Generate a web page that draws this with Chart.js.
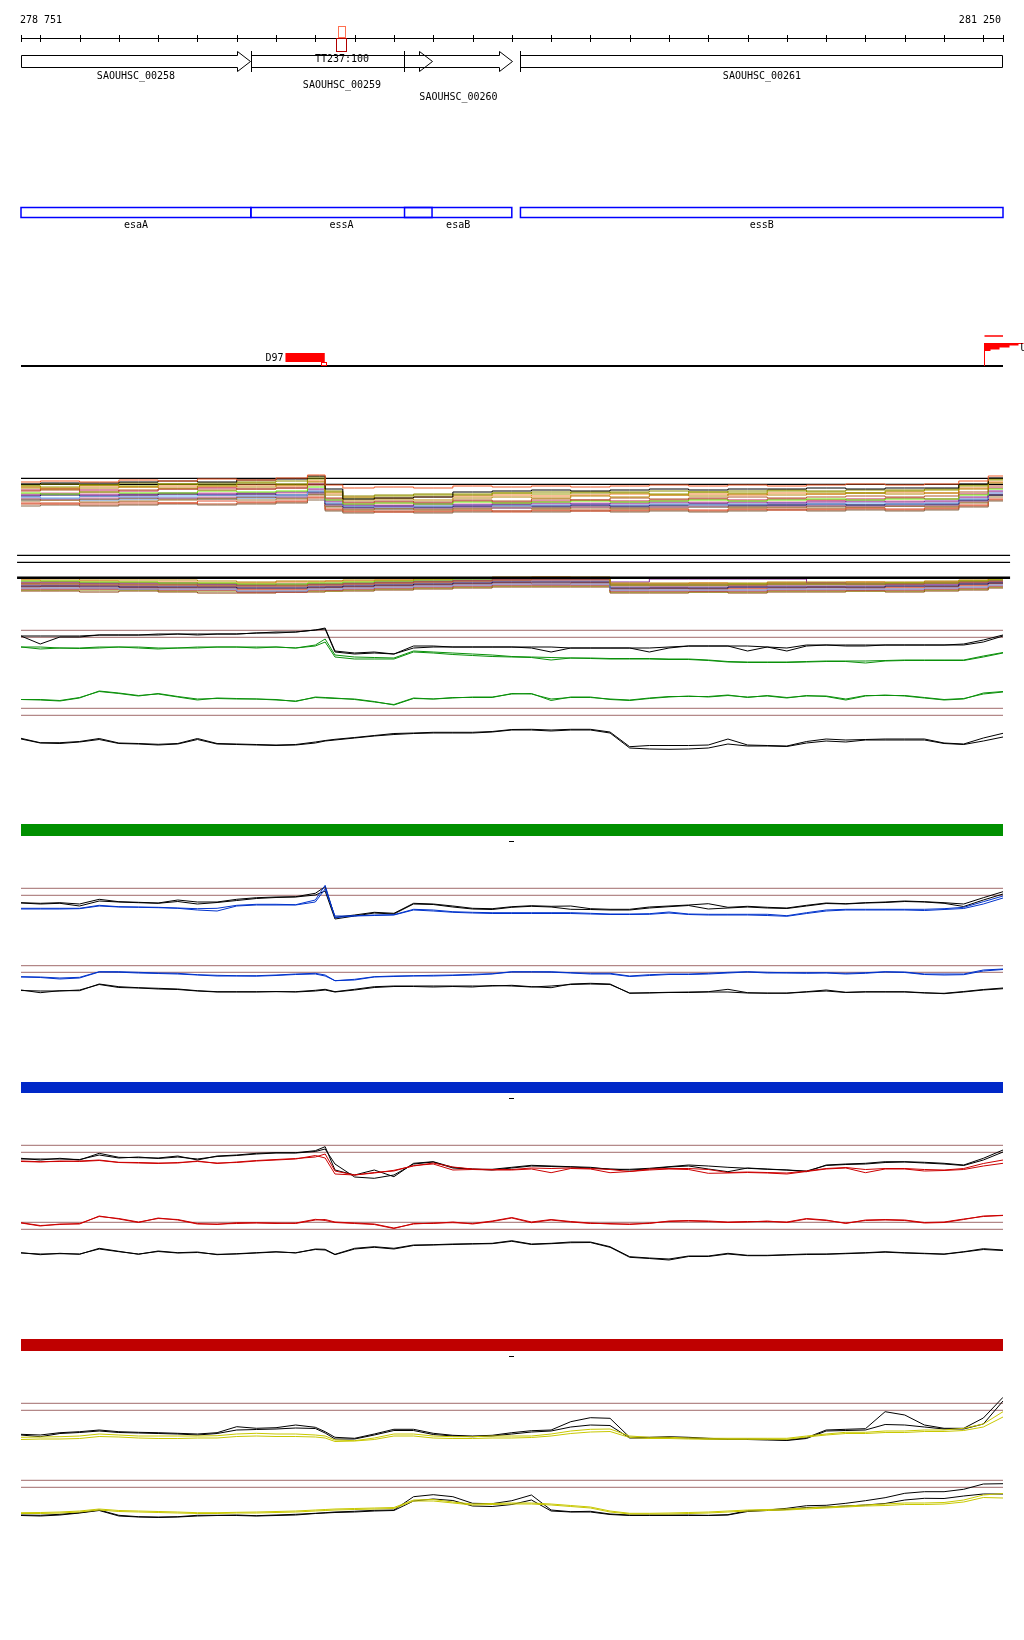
<!DOCTYPE html>
<html>
<head>
<meta charset="utf-8">
<script src="https://cdn.jsdelivr.net/npm/chart.js@4.4.1/dist/chart.umd.min.js"></script>
<style>
  html, body { margin: 0; padding: 0; background: #fff; }
  body { width: 1024px; height: 1640px; position: relative; overflow: hidden; }
  canvas { position: absolute; left: 0; }
</style>
</head>
<body>
<canvas id="map" width="1024" height="380" style="top:0px"></canvas>
<canvas id="stackA" width="1024" height="50" style="top:470px"></canvas>
<canvas id="stackB" width="1024" height="55" style="top:545px"></canvas>
<canvas id="greenPanel" width="1024" height="140" style="top:620px"></canvas>
<canvas id="bluePanel" width="1024" height="190" style="top:820px"></canvas>
<canvas id="redPanel" width="1024" height="192" style="top:1078px"></canvas>
<canvas id="yellowPanel" width="1024" height="195" style="top:1335px"></canvas>
<script>
/* --- VIEW / ANNOTATION DATA --- */
const viewStart = 278751;
const viewEnd = 281250;
const rulerTicks = [278800, 278900, 279000, 279100, 279200, 279300, 279400, 279500, 279600, 279700,
    279800, 279900, 280000, 280100, 280200, 280300, 280400, 280500, 280600, 280700,
    280800, 280900, 281000, 281100, 281200];

const geneNames = ['SAOUHSC_00258', 'SAOUHSC_00259', 'SAOUHSC_00260', 'SAOUHSC_00261'];
const geneStarts = [278751, 279336, 279726, 280022];
const geneEnds = [279334, 279797, 280000, 281420];
const geneLabelRow = [0, 1, 2, 0];

const markerName = 'TT237:100';
const markerPos = 279569;

const featureNames = ['esaA', 'essA', 'esaB', 'essB'];
const featureStarts = [278751, 279336, 279727, 280022];
const featureEnds = [279336, 279797, 280000, 281250];

const peakName = 'D97';
const peakStart = 279424;
const peakEnd = 279524;
const flagPos = 281201;
const flagName = 'U';

/* --- STACKED PROFILES (many strains) --- */
const stackPos = [278751, 278850, 278950, 279050, 279150, 279250, 279350, 279450, 279510, 279540,
    279600, 279700, 279800, 279900, 280000, 280100, 280200, 280300, 280400, 280500,
    280600, 280700, 280800, 280900, 281000, 281100, 281175, 281250];

const stackColors = ['#f05a28', '#000000', '#9a9a00', '#b8860b', '#b25a2a', '#66ee00', '#8b2a9b',
    '#6aaaf0', '#101050', '#c080c0', '#a07838', '#e05030', '#8b6b4b', '#c02050',
    '#8b8b00', '#f08030', '#8b4513', '#e080a0', '#c85028', '#5080c0'];

const stackALevels = [
    [1.3, 1.4, 1.3, 1.5, 1.4, 1.6, 1.5, 1.7, 2.0, 1.0, 0.7, 0.8, 0.7, 0.9, 0.8, 0.9, 0.8, 0.9, 1.0, 0.9, 1.0, 0.9, 1.0, 1.1, 1.0, 1.1, 1.4, 1.9],
    [1.1, 1.2, 1.2, 1.3, 1.4, 1.3, 1.5, 1.6, 1.9, 0.6, -0.4, -0.3, -0.2, 0.3, 0.4, 0.5, 0.4, 0.5, 0.6, 0.5, 0.6, 0.6, 0.7, 0.6, 0.7, 0.7, 1.1, 1.7],
    [0.9, 0.8, 1.0, 0.9, 1.1, 1.0, 1.2, 1.1, 1.6, 0.3, -0.3, -0.1, 0.0, 0.1, 0.2, 0.1, 0.3, 0.2, 0.1, 0.3, 0.2, 0.4, 0.3, 0.2, 0.4, 0.5, 0.9, 1.5],
    [0.7, 0.6, 0.7, 0.8, 0.7, 0.9, 0.8, 1.0, 1.3, 0.0, -0.5, -0.4, -0.5, -0.3, -0.2, -0.3, -0.1, -0.2, 0.0, -0.1, 0.1, 0.0, 0.1, 0.2, 0.1, 0.2, 0.6, 1.2],
    [0.4, 0.5, 0.3, 0.5, 0.6, 0.5, 0.6, 0.7, 1.0, -0.3, -0.7, -0.6, -0.7, -0.5, -0.6, -0.4, -0.5, -0.3, -0.4, -0.3, -0.2, -0.3, -0.2, -0.1, -0.2, -0.1, 0.3, 0.9],
    [0.2, 0.1, 0.3, 0.2, 0.2, 0.4, 0.3, 0.4, 0.8, -0.5, -0.9, -0.8, -0.9, -0.7, -0.8, -0.7, -0.6, -0.7, -0.6, -0.5, -0.6, -0.5, -0.4, -0.5, -0.4, -0.4, 0.0, 0.6],
    [0.0, 0.1, 0.0, 0.1, 0.2, 0.1, 0.2, 0.3, 0.6, -0.6, -1.0, -1.1, -0.9, -1.0, -0.9, -0.8, -0.9, -0.8, -0.7, -0.8, -0.7, -0.8, -0.7, -0.6, -0.7, -0.6, -0.2, 0.4],
    [-0.2, -0.3, -0.1, -0.2, -0.1, 0.0, -0.1, 0.0, 0.4, -0.8, -1.1, -1.2, -1.1, -1.0, -1.1, -1.0, -0.9, -1.0, -0.9, -1.0, -0.9, -0.8, -0.9, -0.8, -0.9, -0.8, -0.4, 0.2],
    [-0.1, 0.0, -0.1, 0.0, 0.1, 0.0, 0.1, 0.0, 0.3, -0.9, -1.2, -1.1, -1.2, -1.1, -1.0, -1.1, -1.0, -1.1, -1.0, -0.9, -1.0, -1.0, -0.9, -1.0, -0.9, -0.9, -0.5, 0.0],
    [-0.3, -0.4, -0.3, -0.2, -0.3, -0.2, -0.1, -0.2, 0.2, -1.0, -1.3, -1.2, -1.3, -1.2, -1.3, -1.1, -1.2, -1.1, -1.2, -1.1, -1.0, -1.1, -1.0, -1.1, -1.0, -1.0, -0.6, 0.1],
    [-0.6, -0.5, -0.7, -0.6, -0.5, -0.4, -0.5, -0.4, 0.0, -1.2, -1.5, -1.4, -1.5, -1.4, -1.3, -1.4, -1.3, -1.4, -1.3, -1.2, -1.3, -1.2, -1.3, -1.2, -1.1, -1.2, -0.8, -0.2],
    [-0.8, -0.9, -0.8, -0.7, -0.8, -0.6, -0.7, -0.6, -0.2, -1.4, -1.6, -1.7, -1.6, -1.5, -1.6, -1.5, -1.6, -1.5, -1.4, -1.5, -1.4, -1.5, -1.4, -1.3, -1.4, -1.3, -1.0, -0.4],
    [-1.1, -1.0, -1.1, -1.0, -0.9, -1.0, -0.9, -0.8, -0.5, -1.6, -1.8, -1.7, -1.8, -1.7, -1.6, -1.7, -1.6, -1.7, -1.6, -1.7, -1.6, -1.5, -1.6, -1.5, -1.6, -1.5, -1.2, -0.6],
    [0.5, 0.6, 0.5, 0.4, 0.6, 0.7, 0.6, 0.7, 1.1, -0.4, -0.8, -0.7, -0.8, -0.6, -0.7, -0.6, -0.5, -0.6, -0.5, -0.4, -0.5, -0.4, -0.5, -0.4, -0.3, -0.4, 0.1, 0.7],
    [1.0, 1.1, 1.0, 1.2, 1.1, 1.2, 1.3, 1.4, 1.8, 0.4, -0.1, 0.0, 0.1, 0.0, 0.2, 0.3, 0.2, 0.3, 0.4, 0.3, 0.4, 0.5, 0.4, 0.5, 0.5, 0.6, 1.0, 1.6],
    [0.8, 0.7, 0.9, 0.8, 0.9, 0.8, 1.0, 0.9, 1.4, 0.2, -0.2, -0.3, -0.2, -0.1, 0.0, -0.1, 0.0, 0.1, 0.0, 0.1, 0.0, 0.2, 0.1, 0.2, 0.3, 0.2, 0.7, 1.3],
    [-0.4, -0.5, -0.4, -0.3, -0.4, -0.3, -0.2, -0.3, 0.1, -1.1, -1.4, -1.3, -1.4, -1.3, -1.2, -1.3, -1.2, -1.3, -1.2, -1.1, -1.2, -1.2, -1.1, -1.2, -1.1, -1.1, -0.7, 0.0],
    [0.1, 0.2, 0.1, 0.0, 0.1, 0.2, 0.1, 0.2, 0.5, -0.7, -1.0, -0.9, -1.0, -0.9, -0.8, -0.9, -0.8, -0.9, -0.8, -0.7, -0.8, -0.7, -0.6, -0.7, -0.6, -0.7, -0.3, 0.3],
    [-0.9, -0.8, -1.0, -0.9, -0.8, -0.9, -0.8, -0.7, -0.3, -1.5, -1.7, -1.6, -1.7, -1.6, -1.7, -1.6, -1.5, -1.6, -1.5, -1.6, -1.5, -1.4, -1.5, -1.4, -1.5, -1.4, -1.1, -0.5],
    [-0.5, -0.4, -0.5, -0.4, -0.3, -0.4, -0.3, -0.2, 0.1, -1.1, -1.3, -1.4, -1.3, -1.2, -1.3, -1.2, -1.1, -1.2, -1.1, -1.2, -1.1, -1.0, -1.1, -1.0, -1.1, -1.0, -0.6, 0.0]
];
const stackARefs = [1.67, 1.07];

const stackBLevels = [
    [0.6, 0.6, 0.5, 0.5, 0.5, 0.4, 0.3, 0.4, 0.4, 0.4, 0.5, 0.5, 0.6, 0.7, 0.8, 0.8, 0.8, 0.2, 0.2, 0.2, 0.2, 0.3, 0.3, 0.3, 0.3, 0.4, 0.5, 0.6],
    [0.1, 0.1, 0.0, 0.0, 0.0, -0.1, -0.1, -0.1, 0.0, 0.0, 0.1, 0.2, 0.3, 0.4, 0.5, 0.6, 0.6, 0.0, 0.0, 0.0, 0.0, 0.1, 0.1, 0.1, 0.1, 0.2, 0.3, 0.4],
    [0.4, 0.4, 0.3, 0.3, 0.2, 0.2, 0.1, 0.1, 0.2, 0.2, 0.3, 0.4, 0.5, 0.6, 0.7, 0.7, 0.7, 0.0, 0.0, 0.0, 0.1, 0.1, 0.1, 0.1, 0.2, 0.2, 0.4, 0.5],
    [0.3, 0.3, 0.2, 0.2, 0.2, 0.1, 0.0, 0.1, 0.1, 0.1, 0.2, 0.3, 0.4, 0.5, 0.6, 0.6, 0.6, 0.3, 0.6, 0.6, 0.6, 0.6, 0.2, 0.1, 0.1, 0.1, 0.3, 0.4],
    [-0.3, -0.3, -0.3, -0.4, -0.4, -0.4, -0.6, -0.6, -0.4, -0.4, -0.3, -0.2, -0.1, 0.0, 0.1, 0.1, 0.1, -0.5, -0.5, -0.5, -0.5, -0.4, -0.4, -0.4, -0.4, -0.3, -0.2, 0.0],
    [-0.1, -0.1, -0.1, -0.2, -0.2, -0.2, -0.3, -0.3, -0.2, -0.2, -0.1, 0.0, 0.1, 0.2, 0.3, 0.3, 0.3, -0.3, -0.3, -0.3, -0.2, -0.2, -0.2, -0.2, -0.1, -0.1, 0.1, 0.2],
    [0.0, 0.0, -0.1, -0.1, -0.1, -0.2, -0.2, -0.2, -0.1, -0.1, 0.0, 0.1, 0.2, 0.3, 0.4, 0.4, 0.4, -0.2, -0.2, -0.2, -0.2, -0.1, -0.1, -0.1, -0.1, 0.0, 0.1, 0.3],
    [0.2, 0.2, 0.2, 0.1, 0.1, 0.1, 0.0, 0.0, 0.1, 0.1, 0.1, 0.2, 0.3, 0.4, 0.5, 0.5, 0.5, 0.1, 0.1, 0.1, 0.1, 0.2, 0.2, 0.2, 0.2, 0.3, 0.4, 0.5],
    [-0.2, -0.2, -0.2, -0.3, -0.3, -0.3, -0.5, -0.5, -0.3, -0.3, -0.2, -0.1, 0.0, 0.1, 0.2, 0.2, 0.2, -0.4, -0.4, -0.4, -0.4, -0.3, -0.3, -0.3, -0.3, -0.2, -0.1, 0.1],
    [0.1, 0.1, 0.1, 0.0, 0.0, 0.0, -0.1, -0.1, 0.0, 0.0, 0.1, 0.2, 0.3, 0.4, 0.5, 0.5, 0.5, -0.1, -0.1, -0.1, 0.0, 0.0, 0.0, 0.0, 0.1, 0.1, 0.2, 0.3],
    [-0.4, -0.4, -0.4, -0.4, -0.5, -0.5, -0.7, -0.7, -0.5, -0.5, -0.4, -0.3, -0.2, -0.1, 0.0, 0.0, 0.0, -0.6, -0.6, -0.6, -0.6, -0.5, -0.5, -0.5, -0.5, -0.4, -0.3, -0.1],
    [-0.5, -0.5, -0.5, -0.5, -0.6, -0.6, -0.7, -0.7, -0.6, -0.6, -0.5, -0.4, -0.3, -0.2, -0.1, -0.1, -0.1, -0.7, -0.7, -0.7, -0.7, -0.6, -0.6, -0.6, -0.6, -0.5, -0.4, -0.2],
    [0.5, 0.4, 0.4, 0.3, 0.3, 0.2, 0.2, 0.3, 0.3, 0.4, 0.4, 0.5, 0.6, 0.7, 0.7, 0.8, 0.7, 0.1, 0.1, 0.2, 0.1, 0.2, 0.2, 0.3, 0.2, 0.3, 0.4, 0.6],
    [-0.6, -0.6, -0.7, -0.6, -0.7, -0.8, -0.8, -0.7, -0.7, -0.6, -0.6, -0.5, -0.4, -0.3, -0.2, -0.2, -0.2, -0.8, -0.8, -0.7, -0.8, -0.7, -0.7, -0.6, -0.7, -0.6, -0.5, -0.3],
    [0.2, 0.3, 0.1, 0.2, 0.1, 0.0, 0.1, 0.0, 0.1, 0.2, 0.2, 0.3, 0.4, 0.5, 0.6, 0.5, 0.6, 0.0, -0.1, 0.0, -0.1, 0.0, 0.1, 0.0, 0.1, 0.2, 0.3, 0.4],
    [-0.2, -0.1, -0.3, -0.2, -0.3, -0.3, -0.4, -0.4, -0.3, -0.2, -0.2, -0.1, 0.0, 0.1, 0.2, 0.1, 0.2, -0.4, -0.3, -0.4, -0.3, -0.3, -0.2, -0.3, -0.2, -0.2, 0.0, 0.2]
];
const stackBRefs = [2.97, 2.27];
const stackBBase = 0.73;

/* --- PAIRED PROFILES --- */
const positions = [278751, 278800, 278850, 278900, 278950, 279000, 279050, 279100, 279150, 279200,
    279250, 279300, 279350, 279400, 279450, 279500, 279525, 279550, 279600, 279650,
    279700, 279750, 279800, 279850, 279900, 279950, 280000, 280050, 280100, 280150,
    280200, 280250, 280300, 280350, 280400, 280450, 280500, 280550, 280600, 280650,
    280700, 280750, 280800, 280850, 280900, 280950, 281000, 281050, 281100, 281150,
    281200, 281250];

// green panel
const greenTopBlackA = [6.4, 6.4, 6.4, 6.4, 6.5, 6.5, 6.5, 6.6, 6.6, 6.6, 6.6, 6.6, 6.7, 6.7, 6.8, 7.0, 7.2, 4.9, 4.7, 4.8, 4.6, 5.4, 5.4, 5.3, 5.3, 5.3, 5.3, 5.3, 5.3, 5.2, 5.2, 5.2, 5.2, 5.2, 5.3, 5.4, 5.4, 5.4, 5.4, 5.3, 5.2, 5.5, 5.5, 5.5, 5.5, 5.5, 5.5, 5.5, 5.5, 5.6, 6.0, 6.5];
const greenTopBlackB = [6.4, 5.6, 6.3, 6.3, 6.5, 6.5, 6.5, 6.5, 6.6, 6.5, 6.6, 6.6, 6.7, 6.8, 6.8, 7.0, 7.1, 4.8, 4.6, 4.7, 4.6, 5.2, 5.3, 5.3, 5.3, 5.3, 5.3, 5.2, 4.8, 5.2, 5.2, 5.2, 5.2, 4.8, 5.2, 5.4, 5.4, 5.4, 4.9, 5.3, 4.9, 5.4, 5.5, 5.4, 5.4, 5.5, 5.5, 5.5, 5.5, 5.5, 5.8, 6.4];
const greenTopA = [5.3, 5.3, 5.2, 5.2, 5.3, 5.3, 5.3, 5.2, 5.2, 5.3, 5.3, 5.3, 5.3, 5.3, 5.2, 5.5, 6.1, 4.5, 4.3, 4.25, 4.2, 4.9, 4.8, 4.7, 4.6, 4.5, 4.35, 4.3, 4.25, 4.2, 4.2, 4.15, 4.15, 4.15, 4.1, 4.1, 4.0, 3.85, 3.8, 3.8, 3.8, 3.85, 3.9, 3.9, 3.9, 3.95, 4.0, 4.0, 4.0, 4.0, 4.4, 4.75];
const greenTopB = [5.3, 5.1, 5.2, 5.15, 5.2, 5.3, 5.2, 5.1, 5.2, 5.2, 5.3, 5.3, 5.2, 5.3, 5.2, 5.4, 5.8, 4.3, 4.1, 4.1, 4.1, 4.8, 4.7, 4.55, 4.45, 4.35, 4.3, 4.25, 4.0, 4.2, 4.15, 4.1, 4.1, 4.1, 4.05, 4.05, 3.95, 3.8, 3.75, 3.75, 3.75, 3.8, 3.85, 3.85, 3.7, 3.9, 3.95, 3.95, 3.95, 3.95, 4.3, 4.7];
const greenLowA = [0.05, 0.05, -0.05, 0.25, 0.85, 0.65, 0.4, 0.65, 0.35, 0.1, 0.15, 0.1, 0.1, 0.0, -0.1, 0.25, 0.2, 0.15, 0.1, -0.15, -0.5, 0.15, 0.1, 0.25, 0.25, 0.25, 0.65, 0.6, 0.1, 0.25, 0.25, 0.1, 0.0, 0.2, 0.35, 0.35, 0.35, 0.5, 0.25, 0.45, 0.25, 0.4, 0.4, 0.1, 0.45, 0.45, 0.45, 0.25, 0.05, 0.15, 0.6, 0.8];
const greenLowB = [0.05, 0.0, -0.1, 0.2, 0.9, 0.7, 0.45, 0.6, 0.3, 0.0, 0.2, 0.15, 0.1, 0.05, -0.15, 0.3, 0.25, 0.2, 0.05, -0.2, -0.45, 0.2, 0.1, 0.2, 0.3, 0.3, 0.6, 0.65, -0.05, 0.3, 0.3, 0.05, -0.05, 0.15, 0.3, 0.4, 0.3, 0.45, 0.3, 0.4, 0.2, 0.45, 0.35, 0.0, 0.4, 0.5, 0.4, 0.2, 0.0, 0.1, 0.7, 0.85];
const greenLowBlackA = [-3.83, -4.27, -4.27, -4.15, -3.85, -4.3, -4.35, -4.43, -4.35, -3.85, -4.35, -4.4, -4.45, -4.5, -4.45, -4.2, -4.05, -3.93, -3.75, -3.55, -3.35, -3.3, -3.23, -3.23, -3.23, -3.15, -2.95, -2.93, -3.0, -2.93, -2.93, -3.2, -4.67, -4.55, -4.55, -4.55, -4.5, -3.9, -4.5, -4.55, -4.6, -4.15, -3.9, -4.0, -3.95, -3.9, -3.9, -3.9, -4.3, -4.4, -3.8, -3.33];
const greenLowBlackB = [-3.9, -4.3, -4.35, -4.2, -3.95, -4.35, -4.4, -4.5, -4.4, -3.95, -4.4, -4.45, -4.5, -4.55, -4.5, -4.3, -4.1, -4.0, -3.8, -3.6, -3.45, -3.35, -3.3, -3.3, -3.3, -3.2, -3.0, -3.0, -3.1, -3.0, -3.0, -3.3, -4.8, -4.9, -4.93, -4.9, -4.8, -4.4, -4.6, -4.6, -4.65, -4.3, -4.1, -4.2, -4.0, -4.0, -4.0, -4.0, -4.35, -4.45, -4.1, -3.7];
const greenRefs = [6.97, 6.27, -0.83, -1.53];

// blue panel
const blueTopBlackA = [4.73, 4.67, 4.73, 4.6, 5.07, 4.83, 4.77, 4.7, 5.0, 4.8, 4.8, 5.07, 5.23, 5.3, 5.33, 5.67, 6.33, 3.27, 3.5, 3.77, 3.67, 4.67, 4.6, 4.4, 4.17, 4.13, 4.33, 4.43, 4.37, 4.4, 4.13, 4.07, 4.07, 4.3, 4.4, 4.5, 4.63, 4.27, 4.37, 4.27, 4.2, 4.47, 4.7, 4.63, 4.73, 4.8, 4.9, 4.83, 4.73, 4.6, 5.23, 5.83];
const blueTopBlackB = [4.7, 4.6, 4.67, 4.4, 4.9, 4.8, 4.73, 4.67, 4.85, 4.6, 4.75, 4.95, 5.15, 5.25, 5.3, 5.5, 5.9, 3.1, 3.4, 3.7, 3.6, 4.6, 4.55, 4.3, 4.1, 4.05, 4.27, 4.37, 4.3, 4.07, 4.05, 4.0, 4.0, 4.2, 4.33, 4.45, 4.1, 4.2, 4.3, 4.2, 4.15, 4.4, 4.65, 4.6, 4.7, 4.75, 4.85, 4.8, 4.67, 4.35, 5.0, 5.6];
const blueTopA = [4.17, 4.17, 4.17, 4.17, 4.47, 4.33, 4.3, 4.27, 4.2, 4.13, 4.17, 4.47, 4.57, 4.57, 4.53, 5.0, 6.47, 3.23, 3.43, 3.5, 3.53, 4.07, 4.0, 3.83, 3.77, 3.73, 3.73, 3.73, 3.73, 3.73, 3.67, 3.6, 3.6, 3.63, 3.8, 3.6, 3.57, 3.57, 3.57, 3.57, 3.43, 3.73, 4.0, 4.07, 4.07, 4.07, 4.07, 4.07, 4.13, 4.27, 4.83, 5.4];
const blueTopB = [4.1, 4.1, 4.1, 4.13, 4.4, 4.3, 4.27, 4.23, 4.17, 4.0, 3.9, 4.4, 4.5, 4.5, 4.5, 4.8, 6.1, 3.4, 3.4, 3.45, 3.5, 4.0, 3.9, 3.77, 3.7, 3.65, 3.65, 3.65, 3.65, 3.65, 3.6, 3.55, 3.55, 3.57, 3.7, 3.55, 3.5, 3.5, 3.5, 3.45, 3.37, 3.65, 3.9, 4.0, 4.0, 4.0, 4.0, 3.95, 4.05, 4.15, 4.6, 5.2];
const blueLowA = [-2.67, -2.7, -2.8, -2.73, -2.17, -2.17, -2.23, -2.3, -2.33, -2.47, -2.53, -2.57, -2.57, -2.5, -2.4, -2.33, -2.5, -3.07, -2.93, -2.67, -2.6, -2.57, -2.53, -2.5, -2.43, -2.37, -2.17, -2.17, -2.17, -2.27, -2.33, -2.33, -2.6, -2.47, -2.4, -2.4, -2.33, -2.23, -2.17, -2.23, -2.27, -2.27, -2.27, -2.33, -2.27, -2.17, -2.2, -2.4, -2.4, -2.4, -2.0, -1.9];
const blueLowB = [-2.7, -2.75, -2.9, -2.8, -2.2, -2.22, -2.3, -2.35, -2.4, -2.5, -2.6, -2.6, -2.62, -2.55, -2.45, -2.4, -2.6, -3.07, -3.0, -2.7, -2.65, -2.6, -2.6, -2.55, -2.5, -2.4, -2.2, -2.2, -2.22, -2.3, -2.4, -2.4, -2.65, -2.55, -2.45, -2.45, -2.4, -2.3, -2.2, -2.3, -2.3, -2.33, -2.3, -2.4, -2.33, -2.2, -2.25, -2.45, -2.5, -2.47, -2.1, -1.95];
const blueLowBlackA = [-4.0, -4.27, -4.07, -4.07, -3.4, -3.67, -3.77, -3.83, -3.9, -4.07, -4.17, -4.17, -4.17, -4.17, -4.17, -4.03, -3.93, -4.17, -3.93, -3.67, -3.6, -3.6, -3.6, -3.6, -3.6, -3.6, -3.53, -3.67, -3.77, -3.4, -3.33, -3.4, -4.33, -4.27, -4.23, -4.2, -4.17, -3.93, -4.27, -4.33, -4.3, -4.17, -4.0, -4.23, -4.17, -4.17, -4.17, -4.27, -4.37, -4.2, -4.0, -3.87];
const blueLowBlackB = [-4.05, -4.1, -4.1, -4.0, -3.45, -3.75, -3.8, -3.9, -3.95, -4.1, -4.2, -4.2, -4.2, -4.15, -4.2, -4.1, -4.0, -4.2, -4.0, -3.75, -3.65, -3.65, -3.7, -3.65, -3.7, -3.55, -3.6, -3.7, -3.6, -3.45, -3.4, -3.45, -4.3, -4.3, -4.25, -4.25, -4.2, -4.2, -4.3, -4.3, -4.33, -4.2, -4.1, -4.25, -4.2, -4.2, -4.2, -4.3, -4.33, -4.15, -3.95, -3.8];
const blueRefs = [6.17, 5.47, -1.57, -2.23];

// red panel
const redTopBlackA = [4.17, 4.0, 4.17, 4.0, 4.67, 4.27, 4.23, 4.2, 4.4, 4.0, 4.4, 4.5, 4.67, 4.73, 4.73, 4.93, 5.33, 3.0, 2.5, 3.0, 2.33, 3.67, 3.83, 3.27, 3.07, 3.07, 3.27, 3.47, 3.4, 3.33, 3.27, 3.07, 3.07, 3.17, 3.33, 3.5, 3.4, 3.27, 3.17, 3.07, 3.0, 2.83, 3.5, 3.6, 3.67, 3.83, 3.83, 3.77, 3.67, 3.5, 4.17, 5.0];
const redTopBlackB = [4.1, 4.1, 4.1, 4.05, 4.5, 4.2, 4.3, 4.15, 4.3, 4.1, 4.35, 4.45, 4.6, 4.7, 4.7, 4.85, 5.1, 3.6, 2.3, 2.17, 2.5, 3.6, 3.8, 3.2, 3.1, 3.0, 3.2, 3.4, 3.35, 3.3, 3.2, 3.1, 3.0, 3.1, 3.3, 3.4, 3.1, 2.83, 3.2, 3.1, 3.0, 2.9, 3.45, 3.55, 3.6, 3.75, 3.8, 3.7, 3.6, 3.45, 4.0, 4.8];
const redTopA = [3.9, 3.83, 3.85, 3.9, 4.0, 3.77, 3.75, 3.7, 3.7, 3.9, 3.65, 3.8, 3.95, 4.05, 4.15, 4.3, 4.6, 2.9, 2.5, 2.7, 2.97, 3.4, 3.7, 3.3, 3.1, 3.05, 3.05, 3.2, 3.15, 3.2, 3.15, 3.05, 2.85, 3.1, 3.15, 3.15, 3.05, 2.75, 2.8, 2.75, 2.7, 2.9, 3.15, 3.25, 3.05, 3.15, 3.15, 3.05, 3.0, 3.15, 3.65, 4.0];
const redTopB = [3.85, 3.8, 3.9, 3.85, 3.95, 3.75, 3.7, 3.65, 3.75, 3.85, 3.7, 3.75, 3.9, 4.0, 4.1, 4.45, 4.2, 2.6, 2.5, 2.75, 2.9, 3.45, 3.6, 3.0, 3.05, 3.0, 3.0, 3.1, 2.73, 3.15, 3.1, 2.73, 2.85, 3.0, 3.1, 3.05, 2.67, 2.7, 2.75, 2.7, 2.6, 2.85, 3.1, 3.2, 2.73, 3.1, 3.1, 2.9, 2.95, 3.05, 3.4, 3.67];
const redLowA = [-2.27, -2.55, -2.45, -2.35, -1.65, -1.85, -2.2, -1.85, -1.95, -2.35, -2.45, -2.27, -2.27, -2.3, -2.35, -2.0, -1.95, -2.2, -2.3, -2.4, -2.8, -2.4, -2.3, -2.27, -2.35, -2.1, -1.75, -2.2, -1.95, -2.15, -2.3, -2.4, -2.4, -2.35, -2.1, -2.05, -2.1, -2.2, -2.15, -2.15, -2.2, -1.85, -2.0, -2.35, -2.0, -1.95, -2.0, -2.25, -2.2, -1.9, -1.65, -1.55];
const redLowB = [-2.3, -2.6, -2.4, -2.4, -1.6, -1.9, -2.25, -1.8, -2.0, -2.4, -2.4, -2.35, -2.3, -2.35, -2.3, -1.93, -2.05, -2.25, -2.35, -2.45, -2.85, -2.35, -2.35, -2.2, -2.4, -2.15, -1.8, -2.27, -2.0, -2.2, -2.35, -2.35, -2.45, -2.3, -2.15, -2.1, -2.15, -2.25, -2.2, -2.1, -2.25, -1.9, -2.05, -2.3, -2.05, -2.0, -2.05, -2.3, -2.25, -1.95, -1.6, -1.53];
const redLowBlackA = [-5.27, -5.47, -5.33, -5.43, -4.83, -5.13, -5.43, -5.1, -5.27, -5.2, -5.47, -5.37, -5.27, -5.17, -5.3, -4.9, -4.93, -5.43, -4.83, -4.67, -4.83, -4.5, -4.47, -4.4, -4.37, -4.33, -4.07, -4.4, -4.33, -4.2, -4.2, -4.67, -5.67, -5.8, -5.9, -5.6, -5.6, -5.33, -5.53, -5.53, -5.47, -5.4, -5.4, -5.33, -5.27, -5.17, -5.27, -5.33, -5.4, -5.17, -4.87, -5.0];
const redLowBlackB = [-5.3, -5.4, -5.37, -5.4, -4.9, -5.17, -5.4, -5.15, -5.3, -5.25, -5.43, -5.4, -5.3, -5.2, -5.27, -4.95, -5.0, -5.47, -4.9, -4.73, -4.9, -4.55, -4.5, -4.45, -4.4, -4.37, -4.13, -4.45, -4.37, -4.27, -4.25, -4.73, -5.73, -5.85, -6.0, -5.65, -5.65, -5.4, -5.57, -5.57, -5.5, -5.45, -5.43, -5.37, -5.3, -5.22, -5.3, -5.37, -5.43, -5.2, -4.95, -5.05];
const redRefs = [5.47, 4.77, -2.23, -2.93];

// yellow panel
const yellowTopBlackA = [2.57, 2.5, 2.73, 2.83, 3.0, 2.83, 2.77, 2.73, 2.67, 2.6, 2.73, 3.33, 3.17, 3.23, 3.5, 3.27, 2.83, 2.27, 2.17, 2.6, 3.07, 3.07, 2.67, 2.47, 2.4, 2.47, 2.73, 2.93, 3.0, 3.83, 4.23, 4.17, 2.27, 2.27, 2.33, 2.27, 2.17, 2.1, 2.1, 2.07, 2.0, 2.23, 3.0, 3.07, 3.13, 4.83, 4.5, 3.5, 3.17, 3.17, 4.2, 6.27];
const yellowTopBlackB = [2.5, 2.33, 2.65, 2.75, 2.9, 2.75, 2.7, 2.65, 2.6, 2.5, 2.65, 3.0, 3.05, 3.1, 3.2, 3.15, 2.7, 2.1, 2.1, 2.5, 2.95, 2.95, 2.55, 2.4, 2.33, 2.4, 2.6, 2.8, 2.9, 3.3, 3.5, 3.45, 2.2, 2.2, 2.25, 2.2, 2.1, 2.05, 2.05, 2.0, 1.95, 2.15, 2.9, 2.95, 3.0, 3.55, 3.5, 3.3, 3.1, 3.1, 3.6, 5.9];
const yellowTopA = [2.27, 2.3, 2.33, 2.4, 2.6, 2.5, 2.4, 2.4, 2.4, 2.4, 2.43, 2.6, 2.67, 2.6, 2.6, 2.5, 2.4, 2.0, 1.93, 2.2, 2.6, 2.6, 2.4, 2.33, 2.33, 2.4, 2.4, 2.4, 2.6, 2.9, 3.07, 3.1, 2.4, 2.27, 2.27, 2.2, 2.17, 2.17, 2.17, 2.17, 2.17, 2.4, 2.6, 2.77, 2.77, 2.9, 2.9, 3.0, 3.0, 3.17, 3.6, 4.83];
const yellowTopB = [2.05, 2.1, 2.1, 2.15, 2.35, 2.3, 2.2, 2.15, 2.15, 2.2, 2.2, 2.35, 2.4, 2.35, 2.35, 2.3, 2.2, 1.85, 1.9, 2.05, 2.4, 2.4, 2.2, 2.15, 2.15, 2.2, 2.2, 2.25, 2.4, 2.65, 2.8, 2.85, 2.25, 2.15, 2.15, 2.1, 2.07, 2.07, 2.07, 2.07, 2.07, 2.3, 2.5, 2.65, 2.65, 2.75, 2.75, 2.85, 2.85, 2.95, 3.3, 4.3];
const yellowLowBlackA = [-5.5, -5.53, -5.43, -5.27, -5.0, -5.53, -5.67, -5.7, -5.67, -5.53, -5.53, -5.5, -5.57, -5.5, -5.43, -5.33, -5.27, -5.2, -5.13, -5.03, -5.0, -3.67, -3.47, -3.67, -4.33, -4.37, -4.07, -3.5, -5.0, -5.17, -5.13, -5.4, -5.5, -5.5, -5.5, -5.5, -5.53, -5.47, -5.07, -5.0, -4.83, -4.57, -4.53, -4.33, -4.07, -3.77, -3.33, -3.17, -3.17, -2.93, -2.4, -2.37];
const yellowLowBlackB = [-5.55, -5.6, -5.5, -5.3, -5.05, -5.6, -5.7, -5.75, -5.7, -5.6, -5.55, -5.55, -5.6, -5.55, -5.5, -5.35, -5.3, -5.25, -5.2, -5.1, -5.05, -4.1, -3.9, -4.05, -4.6, -4.65, -4.45, -4.0, -5.1, -5.2, -5.2, -5.45, -5.55, -5.55, -5.55, -5.55, -5.55, -5.5, -5.15, -5.05, -4.95, -4.75, -4.7, -4.6, -4.5, -4.35, -4.0, -3.83, -3.85, -3.6, -3.4, -3.4];
const yellowLowA = [-5.27, -5.25, -5.2, -5.1, -4.9, -5.05, -5.1, -5.15, -5.2, -5.27, -5.27, -5.23, -5.2, -5.15, -5.1, -5.0, -4.95, -4.9, -4.85, -4.8, -4.75, -4.0, -3.95, -4.2, -4.4, -4.35, -4.3, -4.3, -4.4, -4.55, -4.7, -5.1, -5.33, -5.33, -5.3, -5.25, -5.2, -5.1, -5.0, -4.95, -4.9, -4.8, -4.7, -4.6, -4.5, -4.4, -4.3, -4.3, -4.25, -4.0, -3.5, -3.35];
const yellowLowB = [-5.35, -5.35, -5.3, -5.2, -5.0, -5.15, -5.2, -5.25, -5.3, -5.35, -5.35, -5.3, -5.3, -5.25, -5.2, -5.1, -5.05, -5.0, -4.95, -4.9, -4.85, -4.1, -4.1, -4.3, -4.5, -4.45, -4.4, -4.4, -4.5, -4.65, -4.8, -5.2, -5.4, -5.4, -5.4, -5.35, -5.3, -5.2, -5.1, -5.05, -5.0, -4.9, -4.8, -4.7, -4.6, -4.55, -4.45, -4.45, -4.4, -4.2, -3.75, -3.8];
const yellowRefs = [5.67, 4.97, -2.03, -2.73];

/* --- STYLE --- */
const REF_COLOR = '#a06a6a';
const FONT = '10px "DejaVu Sans Mono", monospace';

/* --- HELPERS --- */
function fmtBp(n) {
    return String(n).replace(/\B(?=(\d{3})+(?!\d))/g, ' ');
}

function series(values, xs, color, extra) {
    return Object.assign({
        data: values.map((v, i) => ({ x: xs[i], y: v })),
        borderColor: color,
        borderWidth: 1,
        pointRadius: 0,
        tension: 0,
        fill: false
    }, extra || {});
}

function level(value, color, width, from, to) {
    return {
        data: [{ x: from || viewStart, y: value }, { x: to || viewEnd, y: value }],
        borderColor: color,
        borderWidth: width || 1,
        pointRadius: 0,
        clip: false
    };
}

function hLine(ctx, x1, x2, y) {
    ctx.beginPath(); ctx.moveTo(x1, y); ctx.lineTo(x2, y); ctx.stroke();
}
function vLine(ctx, x, y1, y2) {
    ctx.beginPath(); ctx.moveTo(x, y1); ctx.lineTo(x, y2); ctx.stroke();
}

/* --- PLUGINS --- */
const genomeMapPlugin = {
    id: 'genomeMap',
    afterDraw(chart) {
        const ctx = chart.ctx;
        const area = chart.chartArea;
        const xs = chart.scales.x;
        const px = v => xs.getPixelForValue(v);
        const cx = v => Math.min(area.right, Math.max(area.left, px(v)));
        const snap = v => Math.round(v) + 0.5;

        ctx.save();
        ctx.font = FONT;
        ctx.textBaseline = 'middle';
        ctx.fillStyle = '#000';
        ctx.strokeStyle = '#000';
        ctx.lineWidth = 1;

        // ruler
        ctx.textAlign = 'left';
        ctx.fillText(fmtBp(viewStart), area.left - 1, 20);
        ctx.textAlign = 'right';
        ctx.fillText(fmtBp(viewEnd), area.right - 2, 20);
        hLine(ctx, area.left, area.right, 38.5);
        [viewStart].concat(rulerTicks, [viewEnd]).forEach(t => vLine(ctx, snap(px(t)), 35, 42));

        // genes
        const rowY = [76, 85, 97];
        geneNames.forEach((name, i) => {
            const s = snap(cx(geneStarts[i]));
            const e = snap(cx(geneEnds[i]));
            ctx.beginPath();
            if (geneEnds[i] <= viewEnd) {
                const hb = e - 13;
                ctx.moveTo(s, 55.5);
                ctx.lineTo(hb, 55.5);
                ctx.lineTo(hb, 51.5);
                ctx.lineTo(e, 61.5);
                ctx.lineTo(hb, 71.5);
                ctx.lineTo(hb, 67.5);
                ctx.lineTo(s, 67.5);
                ctx.closePath();
            } else {
                ctx.rect(s, 55.5, e - s - 1, 12);
            }
            ctx.stroke();
            if (geneStarts[i] > viewStart) vLine(ctx, s, 51, 72);
            ctx.textAlign = 'center';
            ctx.fillText(name, (s + e) / 2, rowY[geneLabelRow[i]]);
        });

        // terminator marker
        const mx = Math.round(px(markerPos));
        ctx.strokeStyle = '#ff7050';
        ctx.strokeRect(mx - 3.5, 26.5, 7, 11);
        ctx.strokeStyle = '#b00000';
        ctx.strokeRect(mx - 5.5, 38.5, 10, 13);
        ctx.fillStyle = '#000';
        ctx.textAlign = 'center';
        ctx.fillText(markerName, mx, 59.5);

        // operon features
        ctx.strokeStyle = '#0000ff';
        ctx.lineWidth = 1.5;
        featureNames.forEach((name, i) => {
            const s = cx(featureStarts[i]);
            const e = cx(featureEnds[i]);
            ctx.strokeRect(s, 207.5, e - s, 10);
            ctx.fillText(name, (s + e) / 2, 225);
        });

        // peak track
        ctx.lineWidth = 2;
        ctx.strokeStyle = '#000';
        hLine(ctx, area.left, area.right, 366);
        const ps = px(peakStart), pe = px(peakEnd);
        ctx.fillStyle = '#ff0000';
        ctx.fillRect(ps, 353, pe - ps, 9);
        ctx.lineWidth = 1;
        ctx.strokeStyle = '#ff0000';
        ctx.strokeRect(Math.round(pe) - 3.5, 362.5, 5, 3);
        ctx.fillStyle = '#000';
        ctx.textAlign = 'right';
        ctx.fillText(peakName, ps - 2, 358);

        const fx = Math.round(px(flagPos)) + 0.5;
        ctx.strokeStyle = '#ff0000';
        vLine(ctx, fx, 343, 366);
        ctx.lineWidth = 1.5;
        hLine(ctx, fx, area.right, 336);
        ctx.fillStyle = '#ff0000';
        ctx.beginPath();
        ctx.moveTo(fx, 343);
        ctx.lineTo(fx + 39, 343);
        ctx.lineTo(fx + 39, 344);
        ctx.lineTo(fx + 34, 344);
        ctx.lineTo(fx + 34, 345.5);
        ctx.lineTo(fx + 25, 345.5);
        ctx.lineTo(fx + 25, 347.5);
        ctx.lineTo(fx + 15, 347.5);
        ctx.lineTo(fx + 15, 349.5);
        ctx.lineTo(fx + 6, 349.5);
        ctx.lineTo(fx + 6, 351);
        ctx.lineTo(fx, 351);
        ctx.closePath();
        ctx.fill();
        ctx.fillStyle = '#000';
        ctx.textAlign = 'left';
        ctx.fillText(flagName, fx + 36, 348);

        ctx.restore();
    }
};

const panelHeaderPlugin = {
    id: 'panelHeader',
    afterDraw(chart, args, opts) {
        if (!opts || !opts.color) return;
        const ctx = chart.ctx;
        const a = chart.chartArea;
        ctx.save();
        ctx.fillStyle = opts.color;
        ctx.fillRect(a.left, a.top + opts.barTop, a.right - a.left, opts.barHeight);
        ctx.fillStyle = '#000';
        ctx.fillRect(Math.round((a.left + a.right) / 2) - 3, a.top + opts.dash, 5, 1);
        ctx.restore();
    }
};

function makeTrack(id, yMin, yMax, datasets, padTop, header) {
    return new Chart(document.getElementById(id), {
        type: 'line',
        data: { datasets: datasets },
        options: {
            responsive: false,
            animation: false,
            devicePixelRatio: 1,
            layout: { padding: { left: 21, right: 21, top: padTop || 0, bottom: 0 } },
            scales: {
                x: { type: 'linear', min: viewStart, max: viewEnd, display: false },
                y: { min: yMin, max: yMax, display: false }
            },
            plugins: {
                legend: { display: false },
                tooltip: { enabled: false },
                panelHeader: header || false
            }
        },
        plugins: [panelHeaderPlugin]
    });
}

function pairedPanel(pairs, refs) {
    const sets = [];
    pairs.forEach(p => {
        sets.push(series(p[0], positions, p[2]));
        sets.push(series(p[1], positions, p[2]));
    });
    refs.forEach(r => sets.push(level(r, REF_COLOR, 1)));
    return sets;
}

/* --- BUILD --- */
document.addEventListener('DOMContentLoaded', () => {
    new Chart(document.getElementById('map'), {
        type: 'line',
        data: { datasets: [] },
        options: {
            responsive: false,
            animation: false,
            devicePixelRatio: 1,
            layout: { padding: { left: 21, right: 21, top: 0, bottom: 0 } },
            scales: {
                x: { type: 'linear', min: viewStart, max: viewEnd, display: false },
                y: { min: 0, max: 1, display: false }
            },
            plugins: { legend: { display: false }, tooltip: { enabled: false } }
        },
        plugins: [genomeMapPlugin]
    });

    // stacked strain profiles
    const stackA = stackALevels.map((vals, i) =>
        series(vals, stackPos, stackColors[i % stackColors.length], { stepped: 'middle' }));
    stackARefs.forEach(r => stackA.push(level(r, '#000', 1.2)));
    makeTrack('stackA', -2.5, 2.5, stackA);

    const stackB = stackBLevels.map((vals, i) =>
        series(vals, stackPos, stackColors[(i + 3) % stackColors.length], { stepped: 'middle', clip: false }));
    stackB.unshift(level(stackBBase, '#000', 2.5, 278741, 281268));
    stackBRefs.forEach(r => stackB.push(level(r, '#000', 1.2, 278741, 281268)));
    makeTrack('stackB', -1.5, 4, stackB);

    makeTrack('greenPanel', -6, 8, pairedPanel([
        [greenTopA, greenTopB, '#0a900a'],
        [greenTopBlackA, greenTopBlackB, '#000'],
        [greenLowA, greenLowB, '#0a900a'],
        [greenLowBlackA, greenLowBlackB, '#000']
    ], greenRefs));

    makeTrack('bluePanel', -6, 8, pairedPanel([
        [blueTopA, blueTopB, '#0033cc'],
        [blueTopBlackA, blueTopBlackB, '#000'],
        [blueLowA, blueLowB, '#0033cc'],
        [blueLowBlackA, blueLowBlackB, '#000']
    ], blueRefs), 50, { color: '#009000', barTop: -46, barHeight: 12, dash: -29 });

    makeTrack('redPanel', -7, 7, pairedPanel([
        [redTopA, redTopB, '#cc0000'],
        [redTopBlackA, redTopBlackB, '#000'],
        [redLowA, redLowB, '#cc0000'],
        [redLowBlackA, redLowBlackB, '#000']
    ], redRefs), 52, { color: '#0028c8', barTop: -48, barHeight: 11, dash: -32 });

    makeTrack('yellowPanel', -7, 7, pairedPanel([
        [yellowTopA, yellowTopB, '#c8c800'],
        [yellowTopBlackA, yellowTopBlackB, '#000'],
        [yellowLowA, yellowLowB, '#c8c800'],
        [yellowLowBlackA, yellowLowBlackB, '#000']
    ], yellowRefs), 55, { color: '#bf0000', barTop: -51, barHeight: 12, dash: -34 });
});
</script>
</body>
</html>
